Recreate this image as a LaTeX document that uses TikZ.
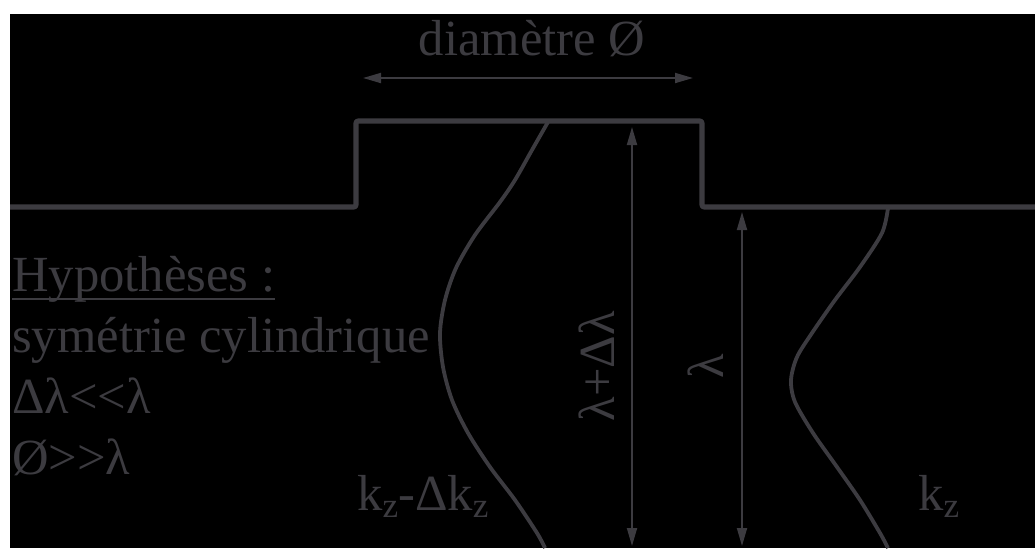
\documentclass[tikz,border=0pt]{standalone}
\usepackage{fontspec}
\setmainfont{Liberation Serif}
\usetikzlibrary{positioning,arrows.meta}
\definecolor{inkgray}{RGB}{60,59,64}
\newcommand{\zsub}{\raisebox{-5.5pt}{\fontsize{25pt}{25pt}\selectfont z}}
\tikzset{
profile/.style={
draw=inkgray,
line width=3.6pt,
line join=round,
rounded corners=1.5pt
},
modecurve/.style={
draw=inkgray,
line width=2.7pt
},
dimarrow/.style={
draw=inkgray,
line width=1.3pt,
{Triangle[length=0.45cm,width=0.25cm]}-{Triangle[length=0.45cm,width=0.25cm]}
},
txt/.style={
text=inkgray,
inner sep=0pt,
font=\fontsize{36pt}{43pt}\selectfont
}
}

\begin{document}
\begin{tikzpicture}[x=0.025cm,y=-0.025cm,node distance=1.525cm]
\useasboundingbox (0,0) rectangle (1035,548);
\fill[black] (10,14) rectangle (1035,548);

% step of the surface
\draw[profile] (10,207) -- (356,207) -- (356,121) -- (702,121) -- (702,207) -- (1035,207);

% field profiles
\draw[modecurve] plot[smooth] coordinates {(548,122) (532,150) (515,180) (500,202) (475,235) (456,268) (445,300) (440,333) (443,367) (452,400) (468,433) (490,467) (515,500) (537,533) (545,548)};
\draw[modecurve] plot[smooth] coordinates {(888,208) (882,233) (860,267) (835,300) (812,333) (797,357) (791,380) (795,402) (813,433) (837,467) (860,500) (880,533) (888,548)};

% dimensions
\coordinate (dl) at (363,78);
\coordinate (dr) at (693,78);
\coordinate (ta) at (632,127);
\coordinate (ba) at (632,546);
\coordinate (tb) at (742,212);
\coordinate (bb) at (742,546);
\foreach \a/\b in {dl/dr,ta/ba,tb/bb}
\draw[dimarrow](\a)--(\b);

\node[txt,anchor=base](diam) at (532,55){diamètre Ø};
\node[txt,rotate=90](lamdl) at (597,366){λ+Δλ};
\node[txt,rotate=90](lam) at (706,366){λ};
\node[txt,anchor=base west](kleft) at (357,510){k\zsub-Δk\zsub};
\node[txt,anchor=base west](kright) at (918,510){k\zsub};

% hypotheses
\node[txt,anchor=base west](hyp) at (12,291){Hypothèses :};
\draw[inkgray,line width=1.3pt]([yshift=-0.2cm]hyp.base west)--([yshift=-0.2cm]hyp.base east);
\node[txt,below=of hyp.base west,anchor=base west](sym){symétrie cylindrique};
\node[txt,below=of sym.base west,anchor=base west](hdl){Δλ<\kern0pt<\kern0pt λ};
\node[txt,below=of hdl.base west,anchor=base west](hdia){Ø>\kern0pt>\kern0pt λ};
\end{tikzpicture}
\end{document}
